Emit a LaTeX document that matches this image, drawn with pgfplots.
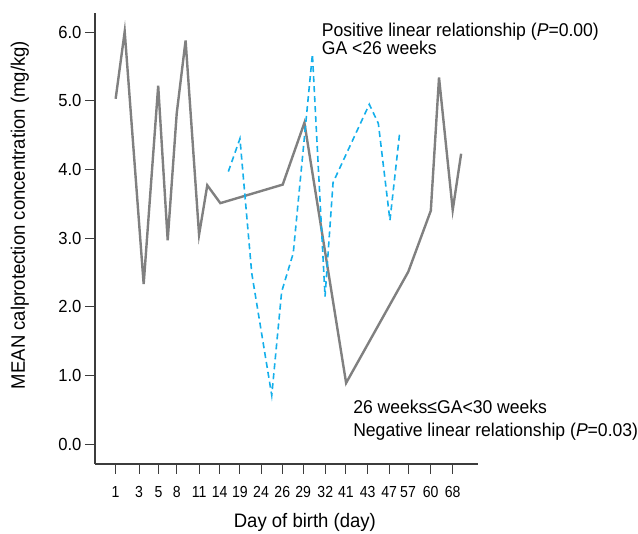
\documentclass[border=0pt]{standalone}
\usepackage{fontspec}
\setmainfont{Liberation Sans}[FakeStretch=0.95]
\newfontfamily\xtickfont{Liberation Sans}[FakeStretch=0.88]
\usepackage{pgfplots}
\pgfplotsset{compat=1.18}
\definecolor{lineGray}{RGB}{128,128,128}
\definecolor{lineBlue}{RGB}{20,175,235}
\definecolor{axGray}{RGB}{60,60,60}

\begin{document}
\begin{tikzpicture}
\begin{axis}[name=ax,
  scale only axis, width=383pt, height=451pt,
  xmin=-0.98, xmax=17.2, ymin=-0.29, ymax=6.28,
  axis lines*=left,
  axis line style={axGray, line width=1.1pt, -},
  tick style={axGray, line width=1pt},
  tick align=outside, major tick length=10pt,
  xtick={0,1.11,2.04,2.90,3.96,4.94,5.90,6.90,7.91,8.90,9.95,10.93,11.96,12.98,13.88,14.95,16.0},
  xticklabels={1,3,5,8,11,14,19,24,26,29,32,41,43,47,57,60,68},
  ytick={0,1,2,3,4,5,6},
  /pgf/number format/assume math mode=true,
  yticklabel style={font=\fontsize{17.5}{17.5}\selectfont, text=black,
    /pgf/number format/.cd, fixed, fixed zerofill, precision=1},
  xticklabel style={yshift=-8.5pt, font=\xtickfont\fontsize{16}{16}\selectfont, text=black},
  xlabel={Day of birth (day)},
  ylabel={MEAN calprotection concentration (mg/kg)},
  every axis x label/.style={at={(axis description cs:0.548,-0.129)}, anchor=center},
  every axis y label/.style={at={(axis description cs:-0.196,0.552)}, anchor=center, rotate=90},
  label style={font=\fontsize{19.5}{19.5}\selectfont},
  clip=false,
]
% GA 26-30 weeks
\addplot[lineGray, line width=2.4pt] coordinates {
  (0,5.03) (0.43,6.01) (1.33,2.33) (2.02,5.22) (2.47,2.97) (2.90,4.82)
  (3.32,5.88) (3.96,3.05) (4.35,3.77) (4.97,3.51) (7.93,3.78) (8.96,4.68)
  (10.94,0.89) (13.89,2.51) (14.96,3.40) (15.35,5.34) (16.0,3.41) (16.40,4.23)
};
% GA <26 weeks
\addplot[lineBlue, line width=1.6pt, dash pattern=on 6pt off 4pt] coordinates {
  (5.35,3.97) (5.90,4.45) (6.46,2.49) (7.41,0.71) (7.88,2.22) (8.43,2.78)
  (9.34,5.68) (9.94,2.15) (10.32,3.81) (12.04,4.95) (12.47,4.67) (13.02,3.26)
  (13.48,4.53)
};
\node[anchor=base west, inner sep=0pt, font=\fontsize{18.5}{18.5}\selectfont] at (axis cs:9.78,5.936) {Positive linear relationship (\textit{P}=0.00)};
\node[anchor=base west, inner sep=0pt, font=\fontsize{18.5}{18.5}\selectfont] at (axis cs:9.78,5.669) {GA <26 weeks};
\node[anchor=base west, inner sep=0pt, font=\fontsize{18.5}{18.5}\selectfont] at (axis cs:11.27,0.447) {26 weeks≤GA<30 weeks};
\node[anchor=base west, inner sep=0pt, font=\fontsize{18.5}{18.5}\selectfont] at (axis cs:11.27,0.106) {Negative linear relationship (\textit{P}=0.03)};
\end{axis}
\pgfresetboundingbox
\path ([xshift=-95pt,yshift=-70pt]ax.south west) rectangle ([xshift=160pt,yshift=13pt]ax.north east);
\end{tikzpicture}
\end{document}
